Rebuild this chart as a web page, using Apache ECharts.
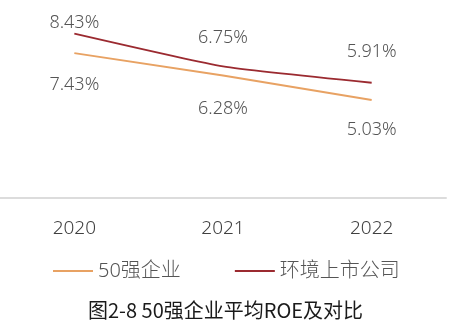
<!DOCTYPE html>
<html>
<head>
<meta charset="utf-8">
<script src="https://cdn.jsdelivr.net/npm/echarts@6/dist/echarts.min.js"></script>
<style>
  html, body { margin: 0; padding: 0; background: #fff; }
  #chart { width: 451px; height: 333px; }
</style>
</head>
<body>
<div id="chart"></div>
<script>
// Average ROE of the top-50 firms vs. listed environmental companies
const years = ['2020', '2021', '2022'];
const top50Roe = [7.43, 6.28, 5.03];
const listedRoe = [8.43, 6.75, 5.91];
const seriesNames = ['50强企业', '环境上市公司'];
const chartTitle = '图2-8 50强企业平均ROE及对比';

// per-point label spacing (px from the line)
const listedLabelGap = [2, 20, 22];
const top50LabelGap = [23, 24, 21];

const thinFont = 'Noto Sans, sans-serif';

const labelStyle = {
  show: true,
  fontSize: 18,
  fontWeight: 300,
  color: '#555',
  fontFamily: thinFont,
  formatter: p => p.value.toFixed(2) + '%'
};

function withLabels(values, position, gaps) {
  return values.map((v, i) => ({
    value: v,
    label: Object.assign({}, labelStyle, { position: position, distance: gaps[i] })
  }));
}

const chart = echarts.init(document.getElementById('chart'), null, { renderer: 'canvas' });
chart.setOption({
  animation: false,
  backgroundColor: '#fff',
  title: {
    text: chartTitle,
    left: 'center',
    top: 295,
    textStyle: {
      fontSize: 20,
      fontWeight: 'normal',
      color: '#1a1a1a',
      fontFamily: 'Noto Sans CJK SC, Noto Sans, sans-serif'
    }
  },
  legend: {
    left: 48,
    top: 256,
    itemWidth: 40,
    itemHeight: 2,
    itemGap: 54,
    data: [
      { name: seriesNames[0], icon: 'rect' },
      { name: seriesNames[1], icon: 'rect' }
    ],
    textStyle: {
      fontSize: 20,
      fontWeight: 300,
      color: '#555',
      fontFamily: 'Noto Sans, Noto Sans CJK SC, sans-serif'
    }
  },
  grid: { left: -6, right: 5, top: 3, bottom: 135, containLabel: false },
  xAxis: {
    type: 'category',
    data: years,
    boundaryGap: true,
    axisLine: { show: true, lineStyle: { color: '#dcdcdc', width: 2 } },
    axisTick: { show: false },
    axisLabel: {
      fontSize: 19,
      fontWeight: 300,
      color: '#404040',
      margin: 21,
      fontFamily: thinFont
    },
    splitLine: { show: false }
  },
  yAxis: {
    type: 'value',
    min: 0,
    max: 10,
    show: false,
    splitLine: { show: false }
  },
  series: [
    {
      name: seriesNames[0],
      type: 'line',
      data: withLabels(top50Roe, 'bottom', top50LabelGap),
      symbol: 'circle',
      symbolSize: 0,
      lineStyle: { color: '#e8a263', width: 2 },
      itemStyle: { color: '#e8a263' }
    },
    {
      name: seriesNames[1],
      type: 'line',
      data: withLabels(listedRoe, 'top', listedLabelGap),
      smooth: 0.15,
      symbol: 'circle',
      symbolSize: 0,
      lineStyle: { color: '#9b2a30', width: 2 },
      itemStyle: { color: '#9b2a30' }
    }
  ]
});
</script>
</body>
</html>
